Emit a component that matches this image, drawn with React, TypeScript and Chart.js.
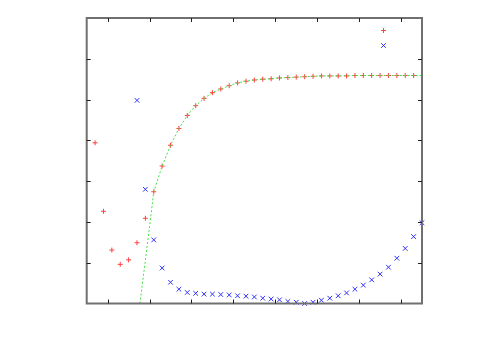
import React, { useEffect, useRef } from "react";
import { Chart, registerables } from "chart.js";

Chart.register(...registerables);

const redX = [0.2, 0.4, 0.6, 0.8, 1.0, 1.2, 1.4, 1.6, 1.8, 2.0, 2.2, 2.4, 2.6, 2.8, 3.0, 3.2, 3.4, 3.6, 3.8, 4.0, 4.2, 4.4, 4.6, 4.8, 5.0, 5.2, 5.4, 5.6, 5.8, 6.0, 6.2, 6.4, 6.6, 6.8, 7.0, 7.2, 7.4, 7.6, 7.8];
const redY = [3.94, 2.26, 1.31, 0.96, 1.07, 1.49, 2.09, 2.74, 3.37, 3.88, 4.29, 4.61, 4.85, 5.03, 5.17, 5.26, 5.34, 5.41, 5.45, 5.48, 5.5, 5.51, 5.53, 5.54, 5.55, 5.56, 5.57, 5.58, 5.58, 5.58, 5.58, 5.59, 5.59, 5.59, 5.59, 5.59, 5.59, 5.59, 5.59];

const blueX = [1.2, 1.4, 1.6, 1.8, 2.0, 2.2, 2.4, 2.6, 2.8, 3.0, 3.2, 3.4, 3.6, 3.8, 4.0, 4.2, 4.4, 4.6, 4.8, 5.0, 5.2, 5.4, 5.6, 5.8, 6.0, 6.2, 6.4, 6.6, 6.8, 7.0, 7.2, 7.4, 7.6, 7.8, 8.0];
const blueY = [4.98, 2.8, 1.56, 0.87, 0.52, 0.35, 0.27, 0.25, 0.23, 0.23, 0.22, 0.21, 0.19, 0.18, 0.16, 0.13, 0.11, 0.09, 0.05, 0.03, 0.0, 0.03, 0.08, 0.13, 0.19, 0.26, 0.35, 0.45, 0.58, 0.72, 0.89, 1.11, 1.35, 1.64, 1.98];

const greenX = [1.27, 1.4, 1.5, 1.6, 1.8, 2.0, 2.2, 2.4, 2.6, 2.8, 3.0, 3.2, 3.4, 3.6, 3.8, 4.0, 4.2, 4.4, 4.6, 4.8, 5.0, 5.2, 5.4, 5.6, 5.8, 6.0, 6.4, 7.0, 7.8, 8.0];
const greenY = [0.0, 1.06, 1.89, 2.74, 3.37, 3.88, 4.29, 4.61, 4.85, 5.03, 5.17, 5.26, 5.34, 5.41, 5.45, 5.48, 5.5, 5.51, 5.53, 5.54, 5.55, 5.56, 5.57, 5.58, 5.58, 5.58, 5.59, 5.59, 5.59, 5.59];

const xTicks = [0.5, 1.5, 2.5, 3.5, 4.5, 5.5, 6.5, 7.5];
const yTicks = [1, 2, 3, 4, 5, 6];

const toPts = (xs: number[], ys: number[]) => xs.map((x, i) => ({ x, y: ys[i] }));

const framePlugin = {
  id: "frame",
  afterDatasetsDraw(chart: any) {
    const { ctx, chartArea: a, scales } = chart;
    ctx.save();
    ctx.strokeStyle = "#707070";
    ctx.lineWidth = 2;
    ctx.strokeRect(a.left, a.top, a.right - a.left, a.bottom - a.top);
    ctx.strokeStyle = "#202020";
    ctx.lineWidth = 1;
    const L = 4;
    ctx.beginPath();
    scales.x.ticks.forEach((t: any) => {
      const px = Math.round(scales.x.getPixelForValue(t.value)) + 0.5;
      ctx.moveTo(px, a.bottom);
      ctx.lineTo(px, a.bottom - L);
      ctx.moveTo(px, a.top);
      ctx.lineTo(px, a.top + L);
    });
    scales.y.ticks.forEach((t: any) => {
      const py = Math.round(scales.y.getPixelForValue(t.value)) + 0.5;
      if (t.value <= 0 || t.value >= 7) return;
      ctx.moveTo(a.left, py);
      ctx.lineTo(a.left + L, py);
      ctx.moveTo(a.right, py);
      ctx.lineTo(a.right - L, py);
    });
    ctx.stroke();
    const kx = a.right - 38.5;
    ctx.lineWidth = 1;
    ctx.strokeStyle = "#ff4040";
    ctx.beginPath();
    const ry = a.top + 12.5;
    ctx.moveTo(kx - 2.5, ry);
    ctx.lineTo(kx + 2.5, ry);
    ctx.moveTo(kx, ry - 2.5);
    ctx.lineTo(kx, ry + 2.5);
    ctx.stroke();
    ctx.strokeStyle = "#3030ff";
    ctx.beginPath();
    const by = a.top + 27.5;
    ctx.moveTo(kx - 2.3, by - 2.3);
    ctx.lineTo(kx + 2.3, by + 2.3);
    ctx.moveTo(kx - 2.3, by + 2.3);
    ctx.lineTo(kx + 2.3, by - 2.3);
    ctx.stroke();
    ctx.restore();
  },
};

export default function App() {
  const ref = useRef<HTMLCanvasElement>(null);
  useEffect(() => {
    if (!ref.current) return;
    const chart = new Chart(ref.current, {
      type: "scatter",
      data: {
        datasets: [
          {
            label: "fit",
            data: toPts(greenX, greenY),
            showLine: true,
            borderColor: "#44e044",
            borderWidth: 1,
            borderDash: [2, 2],
            pointRadius: 0,
            fill: false,
            clip: false,
          } as any,
          {
            label: "red",
            data: toPts(redX, redY),
            pointStyle: "cross",
            pointRadius: 2.5,
            borderColor: "#ff4040",
            backgroundColor: "#ff4040",
            pointBorderWidth: 1,
            clip: false,
          } as any,
          {
            label: "blue",
            data: toPts(blueX, blueY),
            pointStyle: "crossRot",
            pointRadius: 3.3,
            borderColor: "#3030ff",
            backgroundColor: "#3030ff",
            pointBorderWidth: 1,
            clip: false,
          } as any,
        ],
      },
      options: {
        responsive: false,
        animation: false,
        layout: { padding: { top: 18, right: 78, left: 0, bottom: 0 } },
        plugins: { legend: { display: false }, tooltip: { enabled: false } },
        scales: {
          x: {
            type: "linear",
            min: 0,
            max: 8,
            afterBuildTicks: (s: any) => {
              s.ticks = xTicks.map((v) => ({ value: v }));
            },
            afterFit: (s: any) => {
              s.height = 46.5;
            },
            ticks: { display: false },
            grid: { display: false },
            border: { display: false },
          },
          y: {
            type: "linear",
            min: 0,
            max: 7,
            afterBuildTicks: (s: any) => {
              s.ticks = yTicks.map((v) => ({ value: v }));
            },
            afterFit: (s: any) => {
              s.width = 86.7;
            },
            ticks: { display: false },
            grid: { display: false },
            border: { display: false },
          },
        },
      } as any,
      plugins: [framePlugin],
    });
    return () => chart.destroy();
  }, []);
  return (
    <div style={{ position: "absolute", left: 0, top: 0, width: 500, height: 350, background: "#fff" }}>
      <canvas ref={ref} width={500} height={350} style={{ display: "block" }} />
    </div>
  );
}
